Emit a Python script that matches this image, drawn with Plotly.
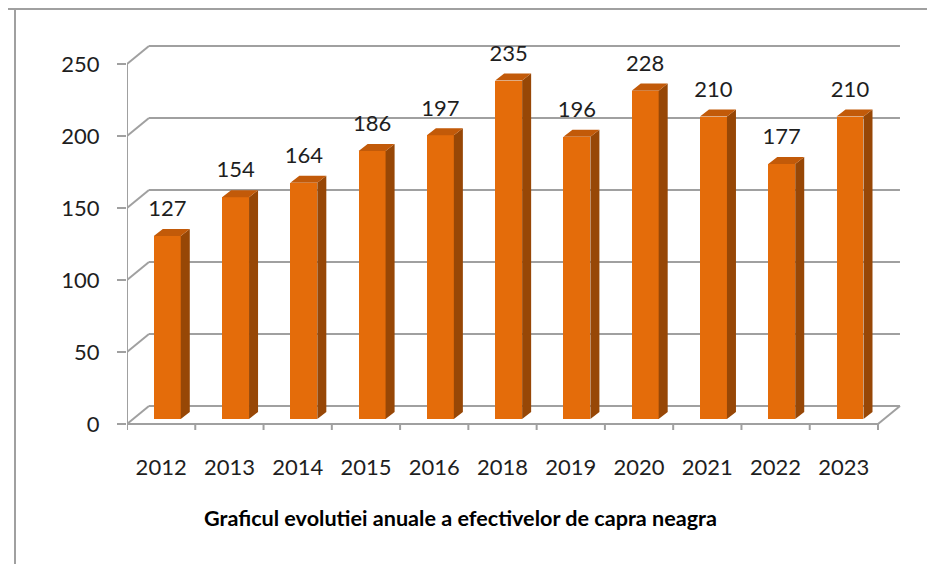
import plotly.graph_objects as go

# ---- data ----
years = ["2012", "2013", "2014", "2015", "2016", "2018", "2019", "2020", "2021", "2022", "2023"]
values = [127, 154, 164, 186, 197, 235, 196, 228, 210, 177, 210]
y_ticks = [0, 50, 100, 150, 200, 250]
title_text = "Graficul evolutiei anuale a efectivelor de capra neagra"

n = len(years)
idx = list(range(n))

# ---- 3D look (offsets in data units) ----
WALL_DX, WALL_DY = 0.322, 12.5      # back wall offset
BAR_DX, BAR_DY = 0.09, 3.5          # bar front plane offset
DEP_DX, DEP_DY = 0.132, 4.9         # bar depth
BAR_W = 0.395
TICK_DOWN = 5.5

FRONT = "#E46C0A"
SIDE = "#974706"
TOP = "#C25A09"
GRID = "#A0A0A0"
FONT = "Lato"
TXT = "#1e1e1e"

fig = go.Figure()

# front faces
fig.add_trace(go.Bar(
    x=[i + BAR_DX for i in idx], y=values, base=BAR_DY, width=BAR_W,
    marker=dict(color=FRONT, line=dict(width=0)), hoverinfo="skip", showlegend=False))

# side faces
sx, sy = [], []
for i, v in zip(idx, values):
    x0 = i + BAR_DX + BAR_W / 2
    sx += [x0, x0, x0 + DEP_DX, x0 + DEP_DX, x0, None]
    sy += [BAR_DY, BAR_DY + v, BAR_DY + v + DEP_DY, BAR_DY + DEP_DY, BAR_DY, None]
fig.add_trace(go.Scatter(x=sx, y=sy, mode="lines", fill="toself", fillcolor=SIDE,
                         line=dict(width=0, color=SIDE), hoverinfo="skip", showlegend=False))

# top faces
tx, ty = [], []
for i, v in zip(idx, values):
    xl = i + BAR_DX - BAR_W / 2
    xr = i + BAR_DX + BAR_W / 2
    yt = BAR_DY + v
    tx += [xl, xr, xr + DEP_DX, xl + DEP_DX, xl, None]
    ty += [yt, yt, yt + DEP_DY, yt + DEP_DY, yt, None]
fig.add_trace(go.Scatter(x=tx, y=ty, mode="lines", fill="toself", fillcolor=TOP,
                         line=dict(width=0, color=TOP), hoverinfo="skip", showlegend=False))

# value labels
fig.add_trace(go.Scatter(
    x=[i + BAR_DX for i in idx], y=[BAR_DY + v + DEP_DY + 5 for v in values],
    mode="text", text=[str(v) for v in values], textposition="top center",
    textfont=dict(family=FONT, size=22, color=TXT), hoverinfo="skip", showlegend=False,
    cliponaxis=False))

# gridlines / walls as shapes below traces
shapes = []
gl = dict(color=GRID, width=2)
for t in y_ticks:
    shapes.append(dict(type="line", xref="x", yref="y", x0=-0.5, y0=t,
                       x1=-0.5 + WALL_DX, y1=t + WALL_DY, line=gl, layer="below"))
    shapes.append(dict(type="line", xref="x", yref="y", x0=-0.5 + WALL_DX, y0=t + WALL_DY,
                       x1=n - 0.5 + WALL_DX, y1=t + WALL_DY, line=gl, layer="below"))
# floor front edge and right edge
shapes.append(dict(type="line", xref="x", yref="y", x0=-0.5, y0=0, x1=n - 0.5, y1=0,
                   line=gl, layer="below"))
shapes.append(dict(type="line", xref="x", yref="y", x0=n - 0.5, y0=0,
                   x1=n - 0.5 + WALL_DX, y1=WALL_DY, line=gl, layer="below"))
# vertical axis line
shapes.append(dict(type="line", xref="x", yref="y", x0=-0.5, y0=0, x1=-0.5, y1=max(y_ticks),
                   line=gl, layer="below"))
# category tick marks
for k in range(n + 1):
    shapes.append(dict(type="line", xref="x", yref="y", x0=-0.5 + k, y0=0,
                       x1=-0.5 + k, y1=-TICK_DOWN, line=gl, layer="below"))
# outer frame
shapes.append(dict(type="line", xref="paper", yref="paper", x0=-0.16, y0=1 + 21 / 400,
                   x1=1.2, y1=1 + 21 / 400, line=gl))
shapes.append(dict(type="line", xref="paper", yref="paper", x0=-112 / 780, y0=1.2,
                   x1=-112 / 780, y1=-0.5, line=gl))

fig.update_layout(
    width=935, height=564,
    margin=dict(l=119, r=36, t=22, b=142),
    paper_bgcolor="white", plot_bgcolor="white",
    showlegend=False,
    bargap=0,
    shapes=shapes,
    xaxis=dict(range=[-0.5, -0.5 + 780 / (751 / 11)], tickvals=idx, ticktext=years,
               showgrid=False, zeroline=False, showline=False, ticks="",
               tickfont=dict(family=FONT, size=22, color=TXT), ticklabelstandoff=22),
    yaxis=dict(range=[-6 / 1.44, 394 / 1.44], tickvals=y_ticks,
               showgrid=False, zeroline=False, showline=False,
               ticks="outside", ticklen=9, tickwidth=2, tickcolor=GRID,
               tickfont=dict(family=FONT, size=22, color=TXT), ticklabelstandoff=13),
    annotations=[dict(text="<b>" + title_text + "</b>", xref="paper", yref="paper",
                      x=(460 - 127) / 780, y=(430 - 518) / 400, xanchor="center",
                      yanchor="middle", showarrow=False,
                      font=dict(family=FONT, size=21.6, color="#000000"))],
)

fig.write_html("out.html")
